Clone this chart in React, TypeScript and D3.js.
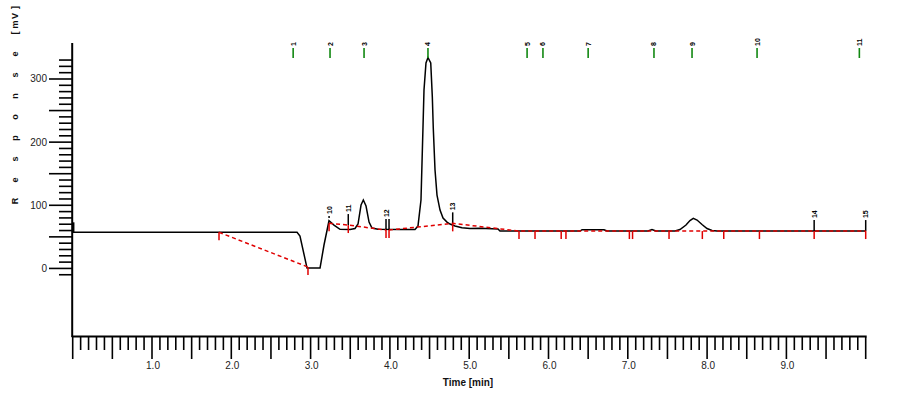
import React from "react";
import * as d3 from "d3";

// chromatogram trace (time in min, response)
const traceTime = [
  0, 2.829, 2.866, 2.955, 3.119, 3.169, 3.232, 3.295, 3.371, 3.497, 3.56, 3.598, 3.636, 3.665, 3.699,
  3.737, 3.774, 3.85, 4.127, 4.316, 4.354, 4.392, 4.417, 4.43, 4.455, 4.48, 4.515, 4.535, 4.547,
  4.569, 4.594, 4.632, 4.67, 4.72, 4.758, 4.821, 4.909, 5.01, 5.136, 5.363, 5.388, 6.397, 6.423,
  6.7, 6.738, 7.255, 7.305, 7.355, 7.595, 7.658, 7.734, 7.784, 7.826, 7.873, 7.936, 7.999, 8.062,
  8.125, 10.0,
];
const traceResponse = [
  57.2, 57.2, 51.3, 0.6, 0.6, 37.1, 75.5, 68.7, 61.9, 61.6, 63.2, 70.3, 100.4, 108.3, 98.8,
  73.5, 64, 61.9, 61.6, 61.6, 67.1, 108.3, 222.3, 282.5, 325.3, 334, 325.3, 271.4, 222.3,
  155.8, 116.2, 92.4, 79.8, 73.4, 70.3, 67.1, 64.4, 63.2, 63.5, 62.4, 59.2, 59.2, 61.3,
  61.3, 59.2, 59.2, 61.6, 59.2, 59.2, 61.6, 68.7, 75.9, 79.3, 76.6, 69.5, 63.2, 60,
  59.2, 59.2,
];

// integration baseline (NaN = break between segments)
const baselineTime = [1.845, 2.967, NaN, 3.233, 3.475, 3.951, NaN, 3.989, 4.792, 5.628, 10.0];
const baselineResponse = [57.2, 2.2, NaN, 71.4, 68.7, 60.8, NaN, 60.8, 71.4, 59.2, 59.2];

// red peak start/end ticks
const cutTime = [1.845, 2.967, 3.233, 3.475, 3.951, 3.989, 4.792, 5.628, 5.83, 6.16, 6.22, 7.02, 7.06, 7.52, 7.94, 8.21, 8.66, 9.35, 10.0];
const cutResponse = [57.2, 2.2, 71.4, 68.7, 60.8, 60.8, 71.4, 59.2, 59.2, 59.2, 59.2, 59.2, 59.2, 59.2, 59.2, 59.2, 59.2, 59.2, 59.2];

// black integration markers with labels
const markTime = [3.233, 3.475, 3.951, 3.989, 4.792, 9.35, 10.0];
const markResponse = [80, 68.7, 60.8, 60.8, 71.4, 59.2, 59.2];
const markLabel = ["10", "11", "12", "", "13", "14", "15"];

// green expected-retention markers at the top
const expectTime = [2.78, 3.245, 3.674, 4.48, 5.73, 5.93, 6.5, 7.33, 7.81, 8.63, 9.92];
const expectLabel = ["1", "2", "3", "4", "5", "6", "7", "8", "9", "10", "11"];

const xTickLabels = ["1.0", "2.0", "3.0", "4.0", "5.0", "6.0", "7.0", "8.0", "9.0"];
const yTickLabels = ["0", "100", "200", "300"];

const W = 902;
const H = 397;
const font = "'Liberation Sans', Arial, sans-serif";

export default function App() {
  const x = d3.scaleLinear().domain([0, 10]).range([72.7, 865.7]);
  const y = d3.scaleLinear().domain([-107, 357]).range([336, 43]);

  const trace = d3
    .line<number>()
    .x((i) => x(traceTime[i]))
    .y((i) => y(traceResponse[i]))(d3.range(traceTime.length));

  const baseline = d3
    .line<number>()
    .defined((i) => !isNaN(baselineTime[i]))
    .x((i) => x(baselineTime[i]))
    .y((i) => y(baselineResponse[i]))(d3.range(baselineTime.length));

  const xTicks = d3.range(0, 101).map((d) => d / 10);
  const yTicks = d3.range(-10, 331, 10);

  // widely spaced "Response", tighter unit so it stays on the page
  const word = "Response".split("");
  const unit = "[mV]".split("");

  return (
    <svg width={W} height={H} style={{ position: "absolute", left: 0, top: 0, background: "#fff" }} fontFamily={font}>
      {word.map((ch, i) => (
        <text key={"w" + i} transform={`translate(18,${201 - i * 21}) rotate(-90)`} fontSize={9} fontWeight="bold" fill="#111" textAnchor="middle">
          {ch}
        </text>
      ))}
      {unit.map((ch, i) => (
        <text key={"u" + i} transform={`translate(18,${33 - i * 8.5}) rotate(-90)`} fontSize={9} fontWeight="bold" fill="#111" textAnchor="middle">
          {ch}
        </text>
      ))}

      {/* axes */}
      <line x1={x(0) - 0.5} x2={x(0) - 0.5} y1={43} y2={337} stroke="#000" strokeWidth={2} />
      <line x1={x(0) - 1} x2={x(10) + 1} y1={336.5} y2={336.5} stroke="#000" strokeWidth={2} />

      {yTicks.map((v) => {
        const big = v % 50 === 0;
        return (
          <line key={v} x1={72 - (big ? 23 : 13)} x2={72} y1={y(v)} y2={y(v)} stroke="#000" strokeWidth={1.6} />
        );
      })}
      {yTickLabels.map((s) => (
        <text key={s} x={47} y={y(+s)} dy="0.35em" textAnchor="end" fontSize={10} fill="#222">
          {s}
        </text>
      ))}

      {xTicks.map((t, i) => {
        const big = i % 5 === 0;
        return <line key={i} x1={x(t)} x2={x(t)} y1={337} y2={337 + (big ? 22 : 13)} stroke="#000" strokeWidth={1.6} />;
      })}
      {xTickLabels.map((s) => (
        <text key={s} x={x(+s) + 1} y={369} textAnchor="middle" fontSize={10} fill="#222">
          {s}
        </text>
      ))}
      <text x={468} y={386} textAnchor="middle" fontSize={10} fontWeight="bold" fill="#111">
        Time [min]
      </text>

      {/* start marker */}
      <line x1={x(0) + 1} x2={x(0) + 1} y1={y(traceResponse[0]) - 10} y2={y(traceResponse[0])} stroke="#000" strokeWidth={1.5} />

      {/* trace */}
      <path d={trace ?? ""} fill="none" stroke="#000" strokeWidth={1.5} />

      {/* black markers */}
      {markTime.map((t, i) => (
        <g key={i}>
          <line x1={x(t)} x2={x(t)} y1={y(markResponse[i]) - (i === 0 ? 2 : 11)} y2={y(markResponse[i])} stroke="#000" strokeWidth={1.5} />
          {markLabel[i] && (
            <text transform={`translate(${x(t) + 2.5},${y(markResponse[i]) - (i === 0 ? 4 : 13)}) rotate(-90)`} fontSize={7} fontWeight="bold" fill="#000">
              {markLabel[i]}
            </text>
          )}
        </g>
      ))}

      {/* baseline */}
      <path d={baseline ?? ""} fill="none" stroke="#e00000" strokeWidth={1.5} strokeDasharray="4,3" />
      {cutTime.map((t, i) => (
        <line key={i} x1={x(t)} x2={x(t)} y1={y(cutResponse[i])} y2={y(cutResponse[i]) + 8} stroke="#e00000" strokeWidth={1.5} />
      ))}

      {/* expected retention markers */}
      {expectTime.map((t, i) => (
        <g key={i}>
          <line x1={x(t)} x2={x(t)} y1={48} y2={58} stroke="#118811" strokeWidth={1.6} />
          <text transform={`translate(${x(t) + 2.5},${46}) rotate(-90)`} fontSize={7} fontWeight="bold" fill="#000">
            {expectLabel[i]}
          </text>
        </g>
      ))}
    </svg>
  );
}
